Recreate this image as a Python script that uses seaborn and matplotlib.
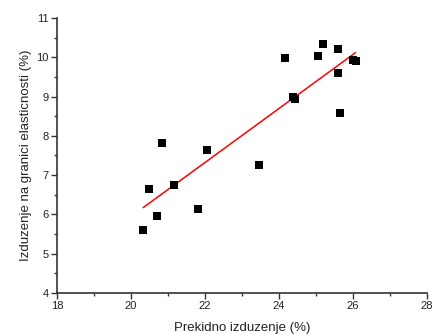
import numpy as np
import pandas as pd
import matplotlib
matplotlib.use("Agg")
import matplotlib.pyplot as plt
import seaborn as sns
from matplotlib.ticker import MultipleLocator

# Prekidno izduzenje (%) vs izduzenje na granici elasticnosti (%)
prekidno = [20.33, 20.49, 20.71, 20.84, 21.16, 21.81, 22.05, 23.46, 24.16, 24.39,
            24.43, 25.05, 25.20, 25.59, 25.59, 25.66, 26.01, 26.07]
granica = [5.60, 6.64, 5.95, 7.81, 6.75, 6.15, 7.65, 7.27, 9.97, 8.98,
           8.94, 10.04, 10.34, 10.22, 9.60, 8.57, 9.93, 9.91]

df = pd.DataFrame({"x": prekidno, "y": granica})

# linearni fit
k, n = np.polyfit(df["x"], df["y"], 1)
fit_x = [df["x"].min(), df["x"].max()]
fit = pd.DataFrame({"x": fit_x, "y": [k * v + n for v in fit_x]})

sns.set_style("ticks")
plt.rcParams["font.family"] = ["Liberation Sans", "DejaVu Sans"]

fig = plt.figure(figsize=(4.33, 3.34), dpi=100)
ax = fig.add_axes([0.1316, 0.1228, 0.8544, 0.8234])

sns.scatterplot(data=df, x="x", y="y", marker="s", color="black",
                s=34, edgecolor="black", linewidth=0, ax=ax, zorder=3)
sns.lineplot(data=fit, x="x", y="y", color="red", linewidth=1.1, ax=ax, zorder=2)

ax.set_xlim(18, 28)
ax.set_ylim(4, 11)
ax.xaxis.set_major_locator(MultipleLocator(2))
ax.xaxis.set_minor_locator(MultipleLocator(1))
ax.yaxis.set_major_locator(MultipleLocator(1))
ax.yaxis.set_minor_locator(MultipleLocator(0.5))

ax.tick_params(which="major", length=4, width=1, labelsize=8, colors="#333333",
               labelcolor="#222222", pad=2)
ax.tick_params(which="minor", length=2, width=1, colors="#333333")

sns.despine(ax=ax)
for s in ["left", "bottom"]:
    ax.spines[s].set_color("#333333")
    ax.spines[s].set_linewidth(1.2)

ax.set_xlabel("Prekidno izduzenje (%)", fontsize=9.5, color="#222222", labelpad=8)
ax.set_ylabel("Izduzenje na granici elasticnosti (%)", fontsize=9.5, color="#222222", labelpad=3)

plt.savefig("out.png", dpi=100)
plt.close()
